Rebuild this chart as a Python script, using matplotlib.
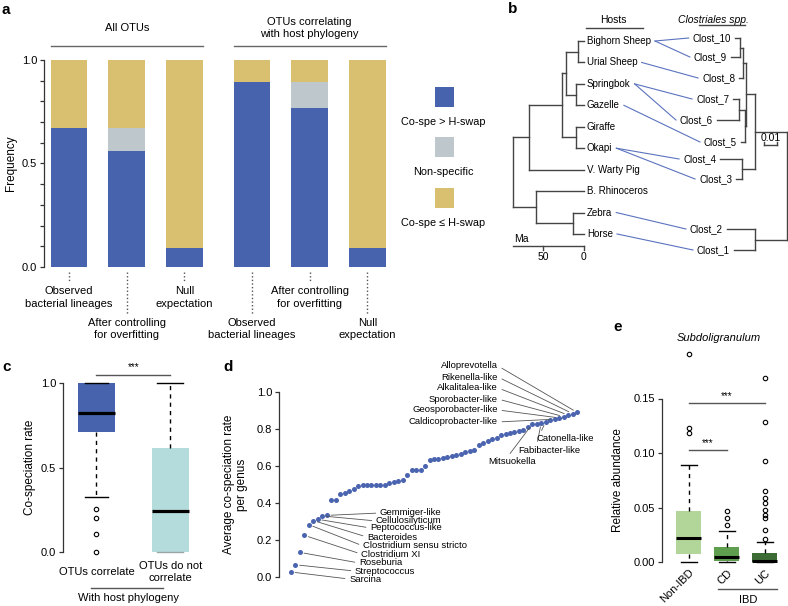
import numpy as np
import matplotlib
matplotlib.use('Agg')
import matplotlib.pyplot as plt
from matplotlib.patches import Rectangle
from matplotlib.ticker import MultipleLocator

plt.rcParams['font.family'] = ['Liberation Sans', 'DejaVu Sans']
plt.rcParams['font.size'] = 8

W, H = 788, 606

# ---- panel a: stacked frequencies
a_groups = ['All OTUs', 'OTUs correlating\nwith host phylogeny']
a_labels = ['Observed\nbacterial lineages', 'After controlling\nfor overfitting', 'Null\nexpectation'] * 2
a_cospe = [0.67, 0.56, 0.09, 0.895, 0.77, 0.09]
a_nonspec = [0.0, 0.11, 0.0, 0.0, 0.125, 0.0]
a_swap = [0.33, 0.33, 0.91, 0.105, 0.105, 0.91]
a_legend = ['Co-spe > H-swap', 'Non-specific', 'Co-spe ≤ H-swap']

# ---- panel b: host tree (node ages in Ma) and Clostriales tree (depth in subs/site)
hosts = ['Bighorn Sheep', 'Urial Sheep', 'Springbok', 'Gazelle', 'Giraffe', 'Okapi',
         'V. Warty Pig', 'B. Rhinoceros', 'Zebra', 'Horse']
host_tree = (87, [(67, [(27, [(22, [(7, ['Bighorn Sheep', 'Urial Sheep']),
                                    (10, ['Springbok', 'Gazelle'])]),
                              (10, ['Giraffe', 'Okapi'])]),
                        'V. Warty Pig']),
                  (58, ['B. Rhinoceros', (13, ['Zebra', 'Horse'])])])
closts = ['Clost_10', 'Clost_9', 'Clost_8', 'Clost_7', 'Clost_6', 'Clost_5',
          'Clost_4', 'Clost_3', 'Clost_2', 'Clost_1']
clost_depth = {'Clost_10': 0.0400, 'Clost_9': 0.0431, 'Clost_8': 0.0369, 'Clost_7': 0.0415,
               'Clost_6': 0.0538, 'Clost_5': 0.0354, 'Clost_4': 0.0515, 'Clost_3': 0.0392,
               'Clost_2': 0.0462, 'Clost_1': 0.0408}
clost_tree = (0.0, [(0.0246, [(0.0312, [(0.0338, [(0.0362, ['Clost_10', 'Clost_9']), 'Clost_8']),
                                        (0.0323, [(0.0369, ['Clost_7', 'Clost_6']), 'Clost_5'])]),
                              (0.0346, ['Clost_4', 'Clost_3'])]),
                    (0.0246, ['Clost_2', 'Clost_1'])])
links = [('Bighorn Sheep', 'Clost_10'), ('Bighorn Sheep', 'Clost_9'), ('Urial Sheep', 'Clost_8'),
         ('Springbok', 'Clost_7'), ('Springbok', 'Clost_6'), ('Gazelle', 'Clost_5'),
         ('Okapi', 'Clost_4'), ('Okapi', 'Clost_3'), ('Zebra', 'Clost_2'), ('Horse', 'Clost_1')]

# ---- panel c: co-speciation rate boxes
c_labels = ['OTUs correlate', 'OTUs do not\ncorrelate']
c_med = [0.825, 0.245]
c_q1 = [0.71, 0.0]
c_q3 = [1.0, 0.615]
c_lo = [0.325, 0.0]
c_hi = [1.0, 1.0]
c_out = [[0.255, 0.20, 0.105, 0.0], []]

# ---- panel d: average co-speciation rate per genus (ranked)
d_rate = [0.027, 0.066, 0.133, 0.225, 0.283, 0.305, 0.312, 0.330, 0.333,
          0.414, 0.416, 0.449, 0.456, 0.465, 0.476, 0.490, 0.496, 0.496, 0.496,
          0.496, 0.498, 0.500, 0.506, 0.513, 0.520, 0.522, 0.550, 0.577, 0.580,
          0.580, 0.600, 0.632, 0.636, 0.640, 0.642, 0.650, 0.656, 0.660, 0.667,
          0.675, 0.681, 0.685, 0.713, 0.726, 0.737, 0.744, 0.749, 0.766, 0.775,
          0.777, 0.783, 0.788, 0.794, 0.810, 0.827, 0.827,
          0.834, 0.840, 0.846, 0.853, 0.860, 0.867, 0.875, 0.883, 0.890]
d_low = ['Sarcina', 'Streptococcus', 'Roseburia', 'Clostridium XI', 'Clostridium sensu stricto',
         'Bacteroides', 'Peptococcus-like', 'Cellulosilyticum', 'Gemmiger-like']
d_low_rank = [1, 2, 3, 4, 5, 6, 7, 8, 9]
d_high = ['Alloprevotella', 'Rikenella-like', 'Alkalitalea-like', 'Sporobacter-like',
          'Geosporobacter-like', 'Caldicoprobacter-like']
d_high_rank = [65, 64, 63, 62, 61, 60]
d_mid = ['Mitsuokella', 'Fabibacter-like', 'Catonella-like']
d_mid_rank = [55, 57, 58]

# ---- panel e: Subdoligranulum relative abundance
e_groups = ['Non-IBD', 'CD', 'UC']
e_med = [0.022, 0.005, 0.001]
e_q1 = [0.007, 0.0008, 0.0]
e_q3 = [0.047, 0.014, 0.008]
e_lo = [0.0, 0.0, 0.0]
e_hi = [0.089, 0.028, 0.018]
e_out = [[0.191, 0.123, 0.118],
         [0.047, 0.040, 0.034],
         [0.169, 0.128, 0.093, 0.065, 0.059, 0.054, 0.048, 0.043, 0.040, 0.029, 0.021]]

blue = '#4763AD'
grey = '#BEC7CB'
tan = '#D9BF70'
teal = '#B5DCDD'
greens = ['#B2D69A', '#5F9E4E', '#3D6B35']
linkc = '#5B73BF'
dark = '#333333'

fig = plt.figure(figsize=(W / 100, H / 100), dpi=100)


def px_axes(l, t, r, b):
    return fig.add_axes([l / W, 1 - b / H, (r - l) / W, (b - t) / H])


def style_left(ax):
    for s in ['top', 'right', 'bottom']:
        ax.spines[s].set_visible(False)
    ax.spines['left'].set_color(dark)
    ax.spines['left'].set_linewidth(0.9)
    ax.tick_params(axis='y', which='both', length=3, width=0.9, color=dark, pad=2, labelsize=8)


# overlay in pixel coordinates for free annotations and panel b
ov = fig.add_axes([0, 0, 1, 1], zorder=5)
ov.set_xlim(0, W)
ov.set_ylim(H, 0)
ov.set_axis_off()

for lab, x, y in [('a', 2, 10), ('b', 508, 9), ('c', 2, 367), ('d', 223, 367), ('e', 613, 327)]:
    ov.text(x, y, lab, fontsize=11, fontweight='bold', va='center', ha='left')

# ================= panel a
axa = px_axes(44, 60, 390, 267)
xa = np.array([0, 1, 2, 3.17, 4.17, 5.17])
wa = 0.64
axa.bar(xa, a_cospe, wa, color=blue)
axa.bar(xa, a_nonspec, wa, bottom=a_cospe, color=grey)
axa.bar(xa, a_swap, wa, bottom=np.array(a_cospe) + np.array(a_nonspec), color=tan)
axa.set_xlim(-0.433, 5.56)
axa.set_ylim(0, 1)
style_left(axa)
axa.set_xticks([])
axa.set_yticks([0, 0.5, 1.0], ['0.0', '0.5', '1.0'])
axa.yaxis.set_minor_locator(MultipleLocator(0.1))
axa.set_ylabel('Frequency', fontsize=8.5)
axa.yaxis.set_label_coords(-0.078, 0.5)

short = [True, False, True, False, True, False]
for x, lab, s in zip(xa, a_labels, short):
    y1 = -0.068 if s else -0.227
    axa.plot([x, x], [-0.024, y1], ls=(0, (1, 1.6)), color='#555555', lw=1, clip_on=False)
    axa.text(x, -0.147 if s else -0.30, lab, ha='center', va='center', fontsize=8, linespacing=1.3)

for g, (i0, i1) in zip(a_groups, [(0, 2), (3, 5)]):
    axa.plot([xa[i0] - wa / 2, xa[i1] + wa / 2], [1.068, 1.068], color='#666666', lw=1, clip_on=False)
    axa.text((xa[i0] + xa[i1]) / 2, 1.155, g, ha='center', va='center', fontsize=8, linespacing=1.3)

# legend
for col, lab, ysq in zip([blue, grey, tan], a_legend, [87, 137, 188]):
    ov.add_patch(Rectangle((435, ysq), 19, 20, color=col, lw=0))
    ov.text(443, ysq + 35, lab, ha='center', va='center', fontsize=7.8)

# ================= panel b
host_y = {h: 41 + i * 21.44 for i, h in enumerate(hosts)}
clost_rows = [38, 57, 78, 99, 120, 142, 159, 179, 229, 250]
clost_y = dict(zip(closts, clost_rows))
tip0 = 584
ma_px = 0.82
sub_px = 1300
root_c = 787
treec = '#444444'


def host_x(age):
    return tip0 - age * ma_px


def clost_x(d):
    return root_c - d * sub_px


def draw_tree(node, ys, xfun, tipx):
    if isinstance(node, str):
        return tipx(node), ys[node]
    h, kids = node
    x = xfun(h)
    pts = [draw_tree(k, ys, xfun, tipx) for k in kids]
    for kx, ky in pts:
        ov.plot([x, kx], [ky, ky], color=treec, lw=1)
    ky = [p[1] for p in pts]
    ov.plot([x, x], [min(ky), max(ky)], color=treec, lw=1)
    return x, (min(ky) + max(ky)) / 2


draw_tree(host_tree, host_y, host_x, lambda n: tip0)
draw_tree(clost_tree, clost_y, clost_x, lambda n: clost_x(clost_depth[n]))

host_text = {}
for h in hosts:
    host_text[h] = ov.text(tip0 + 3, host_y[h], h, ha='left', va='center', fontsize=7)
clost_text = {}
for c in closts:
    clost_text[c] = ov.text(clost_x(clost_depth[c]) - 4, clost_y[c], c, ha='right', va='center', fontsize=7)

ov.text(613, 20, 'Hosts', ha='center', va='center', fontsize=7.5)
ov.plot([586, 643], [28, 28], color=treec, lw=1)
ov.text(713, 20, 'Clostriales spp.', ha='center', va='center', fontsize=7.5, style='italic')
ov.plot([699, 745], [25, 25], color=treec, lw=1)

# time scale
ov.text(514, 239, 'Ma', ha='left', va='center', fontsize=7.5)
ov.plot([host_x(host_tree[0]), host_x(0)], [246, 246], color=treec, lw=1)
for t in [50, 0]:
    ov.plot([host_x(t), host_x(t)], [246, 250], color=treec, lw=1)
    ov.text(host_x(t), 257, str(t), ha='center', va='center', fontsize=7.5)
# substitution scale
ov.plot([clost_x(0.0177), clost_x(0.0077)], [145, 145], color=treec, lw=1)
for d in [0.0177, 0.0077]:
    ov.plot([clost_x(d)] * 2, [142, 145], color=treec, lw=1)
ov.text((clost_x(0.0177) + clost_x(0.0077)) / 2, 138, '0.01', ha='center', va='center', fontsize=7.5)

fig.canvas.draw()
renderer = fig.canvas.get_renderer()
inv = ov.transData.inverted()


def xext(t):
    bb = t.get_window_extent(renderer)
    p = inv.transform([[bb.x0, bb.y0], [bb.x1, bb.y1]])
    return p[0][0], p[1][0]


for h, c in links:
    x0 = xext(host_text[h])[1] + 4
    x1 = xext(clost_text[c])[0] - 4
    ov.plot([x0, x1], [host_y[h], clost_y[c]], color=linkc, lw=0.8)

# ================= panel c
axc = px_axes(63, 383, 200, 552)
c_stats = [dict(med=m, q1=a, q3=b, whislo=lo, whishi=hi, fliers=np.array(f))
           for m, a, b, lo, hi, f in zip(c_med, c_q1, c_q3, c_lo, c_hi, c_out)]
bpc = axc.bxp(c_stats, positions=[1, 2], widths=0.5, capwidths=[0.31, 0.35], patch_artist=True,
              boxprops=dict(linewidth=0),
              medianprops=dict(color='black', lw=2.3, solid_capstyle='butt'),
              whiskerprops=dict(color='black', lw=1, ls=(0, (3, 3))),
              capprops=dict(color='black', lw=1),
              flierprops=dict(marker='o', ms=3.2, mfc='none', mec='black', mew=0.8))
for p, col in zip(bpc['boxes'], [blue, teal]):
    p.set_facecolor(col)
    p.set_edgecolor('none')
for k in bpc:
    for art in bpc[k]:
        art.set_clip_on(False)
bpc['caps'][2].set_color('#9AA5A6')
axc.set_xlim(0.547, 2.4)
axc.set_ylim(0, 1)
style_left(axc)
axc.set_yticks([0, 0.5, 1.0], ['0.0', '0.5', '1.0'])
axc.set_xticks([1, 2], c_labels, fontsize=8)
axc.tick_params(axis='x', length=0, pad=14.4)
for t in axc.get_xticklabels():
    t.set_va('center')
axc.set_ylabel('Co-speciation rate', fontsize=8.5)
axc.yaxis.set_label_coords(-0.2, 0.5)
axc.plot([1, 2], [1.047, 1.047], color='#555555', lw=1, clip_on=False)
axc.text(1.5, 1.095, '***', ha='center', va='center', fontsize=7)
ov.plot([91, 163], [588, 588], color='#555555', lw=1)
ov.text(129, 598, 'With host phylogeny', ha='center', va='center', fontsize=8)

# ================= panel d
axd = px_axes(279, 392, 590, 577)
ranks = np.arange(1, len(d_rate) + 1)
axd.scatter(ranks, d_rate, s=13, color='#4A64B0', lw=0, clip_on=False, zorder=3)
axd.set_xlim(-1.685, 67.9)
axd.set_ylim(0, 1)
style_left(axd)
axd.set_xticks([])
axd.set_yticks(np.arange(0, 1.01, 0.2), ['0.0', '0.2', '0.4', '0.6', '0.8', '1.0'])
axd.set_ylabel('Average co-speciation rate\nper genus', fontsize=8.5, linespacing=1.1)
axd.yaxis.set_label_coords(-0.1, 0.5)

lead = dict(arrowstyle='-', color='#555555', lw=0.6, shrinkA=1, shrinkB=3)
low_xy = [(14.0, -0.011), (15.3, 0.032), (16.2, 0.076), (16.7, 0.124), (17.1, 0.168),
          (18.0, 0.216), (18.7, 0.265), (20.0, 0.303), (20.9, 0.346)]
for name, r, (tx, ty) in zip(d_low, d_low_rank, low_xy):
    axd.annotate(name, xy=(r, d_rate[r - 1]), xytext=(tx, ty), ha='left', va='center', fontsize=6.8,
                 arrowprops=dict(lead, relpos=(0, 0.5)), annotation_clip=False)
high_y = [1.141, 1.081, 1.022, 0.962, 0.903, 0.838]
for name, r, ty in zip(d_high, d_high_rank, high_y):
    axd.annotate(name, xy=(r, d_rate[r - 1]), xytext=(47.3, ty), ha='right', va='center', fontsize=6.8,
                 arrowprops=dict(lead, relpos=(1, 0.5)), annotation_clip=False)
mid_xy = [(45.1, 0.622), (51.8, 0.686), (56.0, 0.746)]
mid_rel = [(0.4, 1), (0.3, 1), (0.05, 1)]
for name, r, (tx, ty), rp in zip(d_mid, d_mid_rank, mid_xy, mid_rel):
    axd.annotate(name, xy=(r, d_rate[r - 1]), xytext=(tx, ty), ha='left', va='center', fontsize=6.8,
                 arrowprops=dict(lead, relpos=rp), annotation_clip=False)

# ================= panel e
axe = px_axes(662, 344, 785, 562)
e_stats = [dict(med=m, q1=a, q3=b, whislo=lo, whishi=hi, fliers=np.array(f))
           for m, a, b, lo, hi, f in zip(e_med, e_q1, e_q3, e_lo, e_hi, e_out)]
bpe = axe.bxp(e_stats, positions=[1, 2, 3], widths=0.66, capwidths=0.42, patch_artist=True,
              boxprops=dict(linewidth=0),
              medianprops=dict(color='black', lw=2.2, solid_capstyle='butt'),
              whiskerprops=dict(color='black', lw=1, ls=(0, (3, 3))),
              capprops=dict(color='black', lw=1),
              flierprops=dict(marker='o', ms=3.2, mfc='none', mec='black', mew=0.8))
for p, col in zip(bpe['boxes'], greens):
    p.set_facecolor(col)
    p.set_edgecolor('none')
for k in bpe:
    for art in bpe[k]:
        art.set_clip_on(False)
axe.set_xlim(0.29, 3.53)
axe.set_ylim(0, 0.2)
style_left(axe)
axe.spines['left'].set_bounds(0, 0.15)
axe.set_yticks([0, 0.05, 0.10, 0.15], ['0.00', '0.05', '0.10', '0.15'])
axe.set_xticks([1, 2, 3], e_groups, rotation=45, ha='right', rotation_mode='anchor', fontsize=8)
axe.tick_params(axis='x', length=0, pad=4)
axe.set_ylabel('Relative abundance', fontsize=8.5)
axe.yaxis.set_label_coords(-0.31, 0.376)
for (p0, p1), yl in [((1, 3), 0.146), ((1, 2), 0.103)]:
    axe.plot([p0, p1], [yl, yl], color='#555555', lw=1, clip_on=False)
    axe.text((p0 + p1) / 2, yl + 0.0065, '***', ha='center', va='center', fontsize=7)
ov.text(719, 338, 'Subdoligranulum', ha='center', va='center', fontsize=8, style='italic')
ov.plot([718, 777], [589, 589], color='#555555', lw=1)
ov.text(748, 600, 'IBD', ha='center', va='center', fontsize=8)

fig.savefig('out.png', dpi=100)
